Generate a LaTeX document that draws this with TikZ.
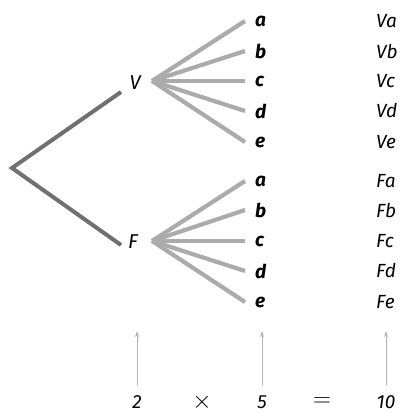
\documentclass[tikz,border=0pt]{standalone}
\usepackage{fontspec}
\setmainfont{Fira Sans}
\usetikzlibrary{arrows.meta}
\definecolor{darkbr}{HTML}{707070}
\definecolor{lightbr}{HTML}{ABABAB}
\definecolor{arrowgray}{HTML}{B4B4B4}
\tikzset{
  trunk/.style={draw=darkbr, line width=4pt},
  fanline/.style={draw=lightbr, line width=4.2pt},
  choice/.style={font=\fontsize{20}{20}\selectfont\itshape, inner sep=0pt, text=black},
  leaf/.style={font=\fontsize{19}{19}\selectfont\bfseries\itshape, inner sep=0pt, anchor=west},
  outcome/.style={font=\fontsize{19}{19}\selectfont\itshape, inner sep=0pt, anchor=west},
  countlbl/.style={font=\fontsize{19}{19}\selectfont\itshape, inner sep=0pt},
  oplbl/.style={font=\fontsize{24}{24}\selectfont, inner sep=0pt},
  uparrow/.style={draw=arrowgray, line width=0.9pt, -{Stealth[length=6pt,width=4pt]}}
}
\begin{document}
\begin{tikzpicture}[x=1pt,y=-1pt]
\useasboundingbox (0,0) rectangle (404,414);
% root
\coordinate (root) at (12,168);
\coordinate (Vj) at (121,92);
\coordinate (Fj) at (121,245);
\node[choice] (V) at (135,83) {V};
\node[choice] (F) at (133,242) {F};
\draw[trunk] (Vj) -- (root) -- (Fj);
% fan origins
\coordinate (Vo) at (152,81);
\coordinate (Fo) at (152,241);
% leaves
\foreach \l/\y [count=\i] in {a/21,b/51,c/81,d/111,e/142}{
  \coordinate (Ve\i) at (245,\y);
  \node[leaf] (Vl\i) at (255,\y) {\l};
  \draw[fanline] (Vo) -- (Ve\i);
  \node[outcome] (Vr\i) at (376,\y) {V\l};
}
\foreach \l/\y [count=\i] in {a/181,b/210,c/241,d/271,e/302}{
  \coordinate (Fe\i) at (245,\y);
  \node[leaf] (Fl\i) at (255,\y) {\l};
  \draw[fanline] (Fo) -- (Fe\i);
  \node[outcome] (Fr\i) at (376,\y) {F\l};
}
% bottom
\node[countlbl] (n2) at (137,402) {2};
\node[oplbl] (times) at (202,402) {$\times$};
\node[countlbl] (n5) at (262,402) {5};
\node[oplbl] (eq) at (322,402) {$=$};
\node[countlbl] (n10) at (386,402) {10};
\coordinate (t2) at (137,331);
\coordinate (t5) at (262,331);
\coordinate (t10) at (386,331);
\draw[uparrow] ([yshift=10pt]n2.north) -- (t2);
\draw[uparrow] ([yshift=10pt]n5.north) -- (t5);
\draw[uparrow] ([yshift=10pt]n10.north) -- (t10);
\end{tikzpicture}
\end{document}
